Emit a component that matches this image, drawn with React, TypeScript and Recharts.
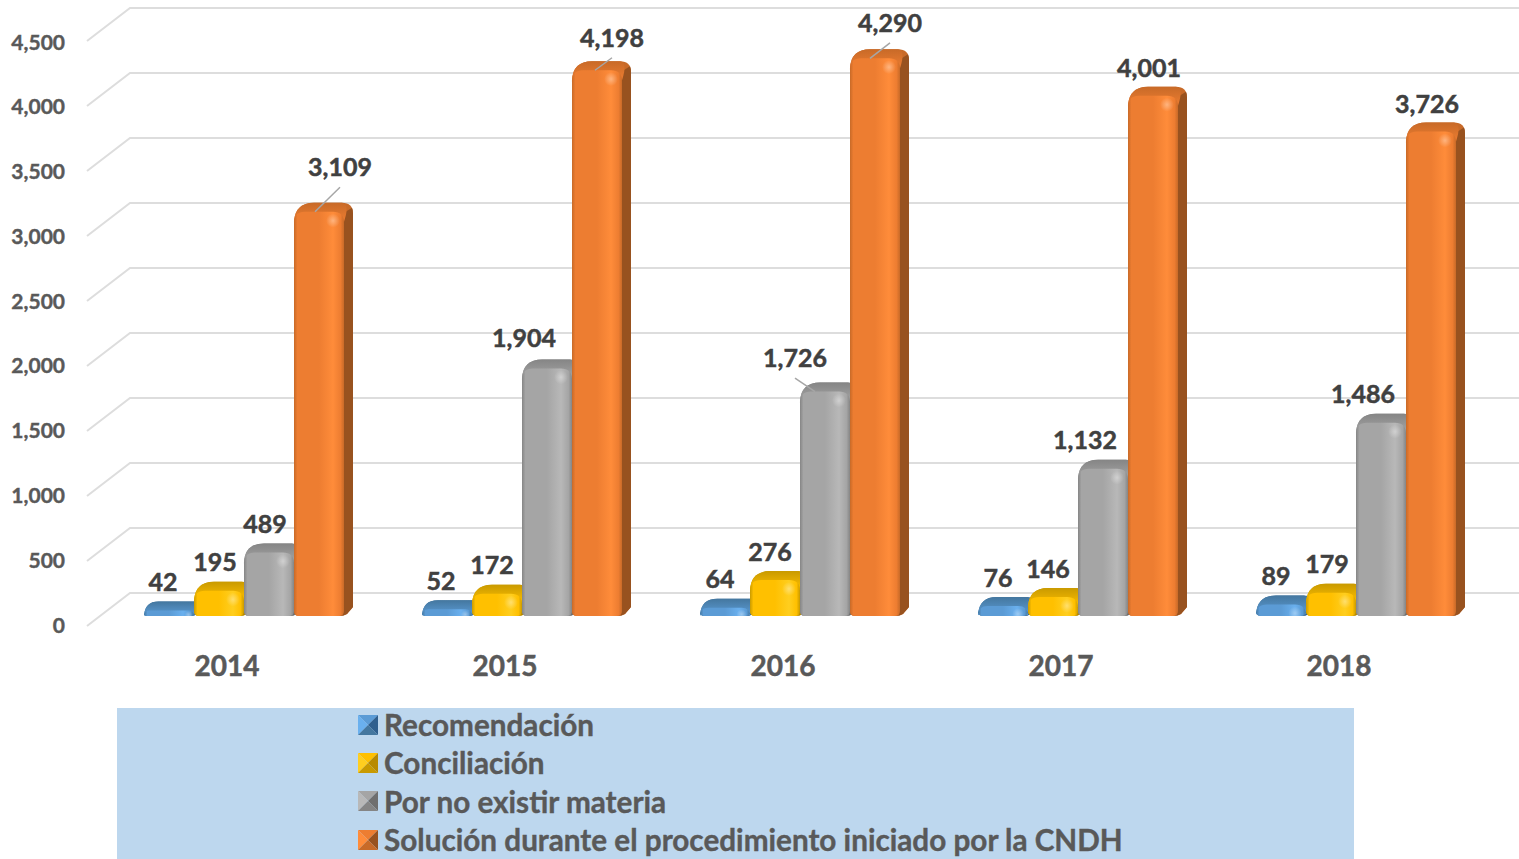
import React from "react";
import { BarChart, Bar, XAxis, YAxis, Legend, LabelList, CartesianGrid } from "recharts";

const categories = ["2014", "2015", "2016", "2017", "2018"];
const recomendacion = [42, 52, 64, 76, 89];
const conciliacion = [195, 172, 276, 146, 179];
const porNoExistir = [489, 1904, 1726, 1132, 1486];
const solucion = [3109, 4198, 4290, 4001, 3726];
const yTicks = [0, 500, 1000, 1500, 2000, 2500, 3000, 3500, 4000, 4500];

const rows = categories.map((year, i) => ({
  year,
  recomendacion: recomendacion[i],
  conciliacion: conciliacion[i],
  porNoExistir: porNoExistir[i],
  solucion: solucion[i],
}));

const seriesDefs = [
  { key: "recomendacion", name: "Recomendación", base: "#5B9BD5", light: "#6AB0EE", dark: "#44779F", edge: "#2F5F8E" },
  { key: "conciliacion", name: "Conciliación", base: "#FFC000", light: "#FFCE1F", dark: "#C99A00", edge: "#B88A00" },
  { key: "porNoExistir", name: "Por no existir materia", base: "#A5A5A5", light: "#B8B8B8", dark: "#858585", edge: "#6F6F6F" },
  { key: "solucion", name: "Solución durante el procedimiento iniciado por la CNDH", base: "#ED7D31", light: "#FF8C3A", dark: "#C86A28", edge: "#98521F" },
];

// label placement relative to the bar's centre and top: default, then per-point exceptions
const defaultNudge = [-5, -29.5];
const labelNudges: Record<string, (number[] | null)[]> = {
  recomendacion: [[-6, -29.5], [-6, -29.5], [-5, -29.5], null, null],
  conciliacion: [[-4, -29.5], null, [-5, -29.5], null, [-4, -29.5]],
  porNoExistir: [[-4, -29], [-23, -31.5], [-30, -34.5], [-18, -29.5], [-18, -29.5]],
  solucion: [[21, -45.5], [15, -33.5], [15, -36.5], [-4, -29], [-4, -29]],
};
const leaderEnd: Record<string, (number | null)[]> = {
  recomendacion: [null, null, null, null, null],
  conciliacion: [null, null, null, null, null],
  porNoExistir: [null, null, -10, null, null],
  solucion: [-4, -2, -5, null, null],
};

const FONT = "Lato, Carlito, sans-serif";
const DX = 9;
const DY = 9;

function bar3D(idx: number) {
  const s = seriesDefs[idx];
  return (props: any) => {
    const { x, y, width: w, height: h } = props;
    const b = y + h;
    const r = Math.min(11, Math.max(h, 3));
    const rb = Math.min(5, h / 2);
    const silhouette = `M${x},${y + r * 0.9} Q${x + 1},${y - DY} ${x + DX + r},${y - DY}
      L${x + w + DX - r},${y - DY} Q${x + w + DX},${y - DY} ${x + w + DX},${y - DY + r}
      L${x + w + DX},${b - DY} L${x + w + 3},${b - 2} Q${x + w},${b} ${x + w - rb},${b} L${x + rb},${b} Q${x},${b} ${x},${b - rb} Z`;
    const topFace = `M${x},${y + r * 0.9} Q${x + 1},${y - DY} ${x + DX + r},${y - DY}
      L${x + w + DX - r},${y - DY} Q${x + w + DX - 3},${y - DY + 1} ${x + w},${y + r * 0.9} Z`;
    const side = `M${x + w - 3},${y + 3} L${x + w + DX - 1},${y - DY + 5} Q${x + w + DX},${y - DY + 7} ${x + w + DX},${y - DY + r}
      L${x + w + DX},${b - DY} L${x + w + 3},${b - 2} Q${x + w},${b} ${x + w - rb},${b} Z`;
    const front = `M${x},${y + r} Q${x},${y} ${x + r},${y} L${x + w - r},${y} Q${x + w},${y} ${x + w},${y + r}
      L${x + w},${b - rb} Q${x + w},${b} ${x + w - rb},${b} L${x + rb},${b} Q${x},${b} ${x},${b - rb} Z`;
    return (
      <g>
        <path d={silhouette} fill={s.dark} />
        <path d={side} fill={s.edge} />
        <path d={topFace} fill={`url(#top-${idx})`} />
        <path d={front} fill={`url(#front-${idx})`} />
        <circle cx={x + w - r} cy={y + r * 0.8} r={Math.min(7, h / 2 + 1)} fill="url(#glint)" />
      </g>
    );
  };
}

function dataLabel(idx: number) {
  const s = seriesDefs[idx];
  return (props: any) => {
    const { x, y, width: w, value, index } = props;
    const n = labelNudges[s.key][index] || defaultNudge;
    const cx = x + w / 2;
    const lx = cx + n[0];
    const ly = y + n[1];
    const end = leaderEnd[s.key][index];
    return (
      <g>
        {end !== null && (
          <line x1={lx} y1={ly + 21} x2={cx + end} y2={y} stroke="#A6A6A6" strokeWidth={1.5} />
        )}
        <text x={lx} y={ly} textAnchor="middle" dominantBaseline="central" fontFamily={FONT} fontWeight={700} fontSize={25} fill="#404040" stroke="#404040" strokeWidth={0.5}>
          {Number(value).toLocaleString("en-US")}
        </text>
      </g>
    );
  };
}

function GridLine(props: any) {
  const { y1 } = props;
  return <path d={`M87,${y1 + 10} L130,${y1 - 23} L1519,${y1 - 23}`} fill="none" stroke="#DDDDDD" strokeWidth={2} />;
}

function YTick(props: any) {
  const { y, payload } = props;
  const labelY = y + 8 + ((616 - y) * 2) / 585;
  return (
    <text x={65} y={labelY} textAnchor="end" dominantBaseline="central" fontFamily={FONT} fontWeight={700} fontSize={21} fill="#595959" stroke="#595959" strokeWidth={0.4}>
      {Number(payload.value).toLocaleString("en-US")}
    </text>
  );
}

function XTick(props: any) {
  const { x, payload } = props;
  return (
    <text x={x - 17} y={665} textAnchor="middle" dominantBaseline="central" fontFamily={FONT} fontWeight={700} fontSize={28} fill="#595959" stroke="#595959" strokeWidth={0.5}>
      {payload.value}
    </text>
  );
}

function BevelIcon({ s }: { s: (typeof seriesDefs)[number] }) {
  return (
    <svg width={20} height={20} style={{ display: "block", flex: "none" }}>
      <polygon points="0,0 20,0 10,10" fill={s.base} />
      <polygon points="0,0 0,20 10,10" fill={s.light} />
      <polygon points="20,0 20,20 10,10" fill={s.edge} />
      <polygon points="0,20 20,20 10,10" fill={s.dark} />
    </svg>
  );
}

function LegendBox() {
  return (
    <div style={{ background: "#BDD7EE", width: 1237, height: 151, position: "relative" }}>
      {seriesDefs.map((s, i) => (
        <div
          key={s.key}
          style={{
            position: "absolute",
            left: 241,
            top: 16.5 + i * 38.4 - 19,
            height: 38,
            display: "flex",
            alignItems: "center",
            gap: 6,
            whiteSpace: "nowrap",
            fontFamily: FONT,
            fontWeight: 700,
            fontSize: 29.7,
            color: "#595959",
            WebkitTextStroke: "0.4px #595959",
          }}
        >
          <BevelIcon s={s} />
          <span>{s.name}</span>
        </div>
      ))}
    </div>
  );
}

export default function App() {
  return (
    <div style={{ position: "absolute", left: 0, top: 0, width: 1519, height: 859, overflow: "hidden", background: "#fff" }}>
      <BarChart
        width={1519}
        height={859}
        data={rows}
        margin={{ top: 31, right: 24, bottom: 0, left: 45 }}
        barSize={50}
        barGap={0}
      >
        <defs>
          {seriesDefs.map((s, i) => (
            <React.Fragment key={s.key}>
              <linearGradient id={`front-${i}`} x1="0" x2="1" y1="0" y2="0">
                <stop offset="0" stopColor={s.dark} />
                <stop offset="0.07" stopColor={s.base} />
                <stop offset="0.5" stopColor={s.base} />
                <stop offset="0.78" stopColor={s.light} />
                <stop offset="0.93" stopColor={s.base} />
                <stop offset="1" stopColor={s.dark} />
              </linearGradient>
              <linearGradient id={`top-${i}`} x1="0" x2="0" y1="0" y2="1">
                <stop offset="0" stopColor={s.dark} />
                <stop offset="1" stopColor={s.base} />
              </linearGradient>
            </React.Fragment>
          ))}
          <radialGradient id="glint">
            <stop offset="0" stopColor="#fff" stopOpacity={0.35} />
            <stop offset="1" stopColor="#fff" stopOpacity={0} />
          </radialGradient>
        </defs>
        <CartesianGrid vertical={false} horizontal={GridLine} />
        <XAxis dataKey="year" axisLine={false} tickLine={false} height={243} tick={XTick} interval={0} />
        <YAxis
          domain={[0, 4500]}
          ticks={yTicks}
          width={60}
          axisLine={false}
          tickLine={false}
          tick={YTick}
          interval={0}
        />
        <Legend
          layout="horizontal"
          verticalAlign="middle"
          content={LegendBox}
          wrapperStyle={{ left: 117, top: 708, width: 1237, height: 151, margin: 0 }}
        />
        {seriesDefs.map((s, i) => (
          <Bar key={s.key} dataKey={s.key} name={s.name} fill={s.base} shape={bar3D(i)} isAnimationActive={false}>
            <LabelList dataKey={s.key} content={dataLabel(i)} />
          </Bar>
        ))}
      </BarChart>
    </div>
  );
}
